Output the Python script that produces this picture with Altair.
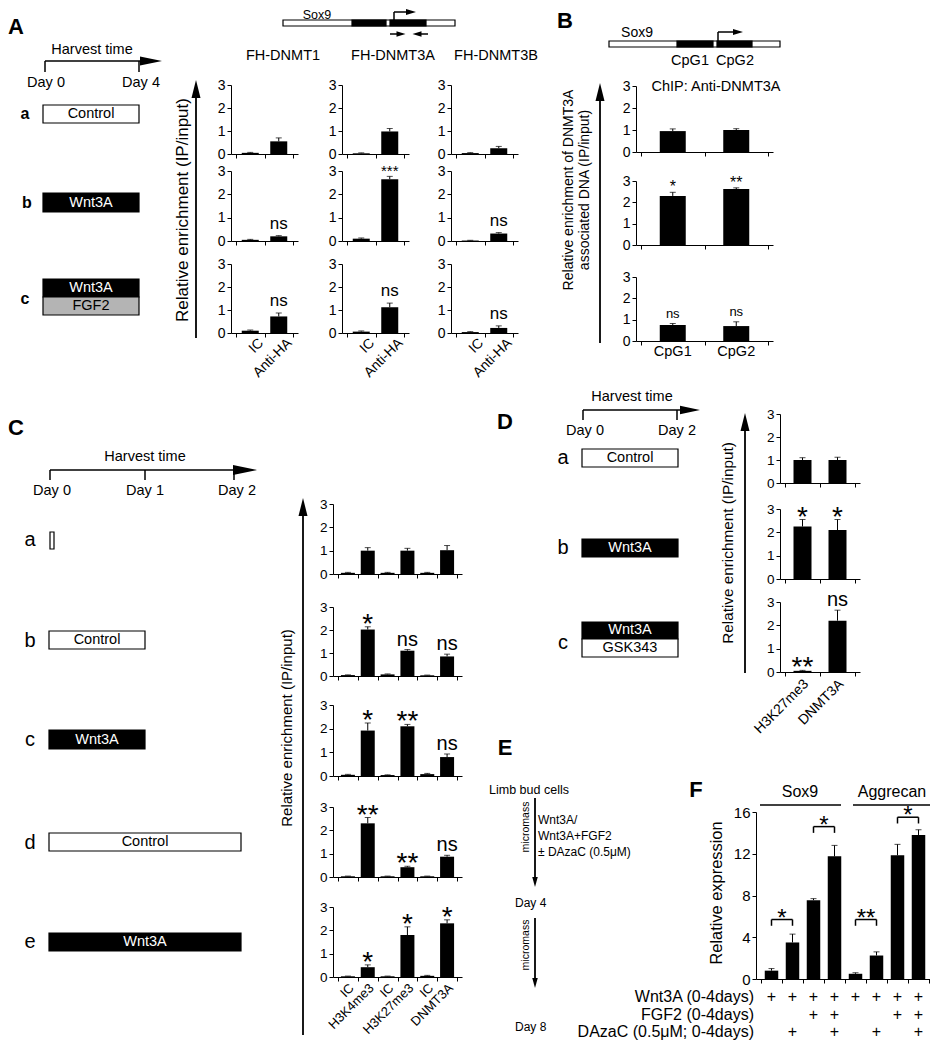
import altair as alt
import numpy as np
import pandas as pd

FONT = "Liberation Sans"
W, H = 922, 1034
OX, OY = 8, 8

# ---------------- data ----------------
A_categories = ["IC", "Anti-HA"]
A_columns = ["FH-DNMT1", "FH-DNMT3A", "FH-DNMT3B"]
A_DNMT1_mean = [[0.05, 0.55], [0.05, 0.20], [0.10, 0.72]]
A_DNMT1_err = [[0.02, 0.15], [0.02, 0.03], [0.03, 0.15]]
A_DNMT1_sig = [["", ""], ["", "ns"], ["", "ns"]]
A_DNMT3A_mean = [[0.03, 0.98], [0.10, 2.65], [0.06, 1.12]]
A_DNMT3A_err = [[0.02, 0.13], [0.03, 0.12], [0.03, 0.18]]
A_DNMT3A_sig = [["", ""], ["", "***"], ["", "ns"]]
A_DNMT3B_mean = [[0.04, 0.25], [0.02, 0.32], [0.04, 0.22]]
A_DNMT3B_err = [[0.02, 0.08], [0.01, 0.04], [0.02, 0.09]]
A_DNMT3B_sig = [["", ""], ["", "ns"], ["", "ns"]]
A_yticks = [0, 1, 2, 3]

B_categories = ["CpG1", "CpG2"]
B_mean = [[0.95, 1.00], [2.30, 2.62], [0.75, 0.70]]
B_err = [[0.10, 0.06], [0.17, 0.06], [0.07, 0.20]]
B_sig = [["", ""], ["*", "**"], ["ns", "ns"]]

C_categories = ["IC", "H3K4me3", "IC", "H3K27me3", "IC", "DNMT3A"]
C_mean = [
    [0.05, 1.00, 0.05, 1.00, 0.05, 1.02],
    [0.04, 2.02, 0.07, 1.10, 0.03, 0.85],
    [0.05, 1.92, 0.04, 2.10, 0.08, 0.80],
    [0.03, 2.30, 0.03, 0.42, 0.03, 0.87],
    [0.03, 0.42, 0.03, 1.80, 0.05, 2.30],
]
C_err = [
    [0.02, 0.13, 0.02, 0.10, 0.02, 0.20],
    [0.01, 0.12, 0.02, 0.05, 0.01, 0.10],
    [0.02, 0.32, 0.01, 0.08, 0.03, 0.13],
    [0.01, 0.25, 0.01, 0.04, 0.01, 0.06],
    [0.01, 0.10, 0.01, 0.35, 0.02, 0.15],
]
C_sig = [
    ["", "", "", "", "", ""],
    ["", "*", "", "ns", "", "ns"],
    ["", "*", "", "**", "", "ns"],
    ["", "**", "", "**", "", "ns"],
    ["", "*", "", "*", "", "*"],
]

D_categories = ["H3K27me3", "DNMT3A"]
D_mean = [[1.00, 1.00], [2.25, 2.10], [0.05, 2.20]]
D_err = [[0.10, 0.12], [0.30, 0.45], [0.02, 0.45]]
D_sig = [["", ""], ["*", "*"], ["**", "ns"]]

F_genes = ["Sox9", "Aggrecan"]
F_mean = [0.8, 3.5, 7.55, 11.75, 0.5, 2.25, 11.85, 13.8]
F_err = [0.2, 0.8, 0.15, 1.05, 0.1, 0.35, 1.05, 0.5]
F_yticks = [0, 4, 8, 12, 16]
F_treatments = ["Wnt3A (0-4days)", "FGF2 (0-4days)", "DAzaC (0.5\u03bcM; 0-4days)"]
F_wnt3a = ["+", "+", "+", "+", "+", "+", "+", "+"]
F_fgf2 = ["", "", "+", "+", "", "", "+", "+"]
F_dazac = ["", "+", "", "+", "", "+", "", "+"]
F_pair_left = [0, 2, 4, 6]
F_pair_right = [1, 3, 5, 7]
F_pair_sig = ["*", "*", "**", "*"]
F_pair_level = [5.7, 14.6, 5.7, 15.5]

# ---------------- layout (page pixels) ----------------
A_col_x = [(231, 298), (342, 409), (451, 518)]
A_row_y = [(154, 85), (241, 171), (333, 264)]
B_x = (636, 773)
B_row_y = [(152, 86), (245, 181), (341, 277)]
C_x = (333, 462)
C_row_y = [(574, 504), (676, 607), (776, 705), (877, 807), (977, 907)]
D_x = (780, 860)
D_row_y = [(483, 414), (579, 509), (672, 602)]
F_x = (756, 934)
F_y = (979, 812)
F_row_label_y = [997, 1015, 1032]


def frame(df, n, xr, yr, ymax, yticks, bar_w, tick_font):
    xs = alt.Scale(domain=[0, n], range=[xr[0] - OX, xr[1] - OX], nice=False, zero=False)
    ys = alt.Scale(domain=[0, ymax], range=[yr[0] - OY, yr[1] - OY], nice=False, zero=False)
    xax = alt.Axis(orient="bottom", offset=(yr[0] - OY) - H, values=list(range(n + 1)),
                   labels=False, ticks=True, tickSize=4, title=None, grid=False, zindex=1)
    yax = alt.Axis(orient="left", offset=-(xr[0] - OX), values=yticks, labelFontSize=tick_font,
                   tickSize=4, title=None, grid=False, zindex=1, labelPadding=2)

    def X(f):
        return alt.X(f, scale=xs, axis=xax)

    def Y(f):
        return alt.Y(f, scale=ys, axis=yax)

    base = alt.Chart(df)
    bars = base.mark_bar(color="black", size=bar_w, orient="vertical").encode(
        x=X("pos:Q"), y=alt.Y("mean:Q", scale=ys, axis=yax, stack=False))
    errs = base.mark_rule(color="black", strokeWidth=1).encode(x=X("pos:Q"), y=Y("mean:Q"), y2="top:Q")
    caps = base.mark_tick(color="black", orient="horizontal", size=6, thickness=1).encode(
        x=X("pos:Q"), y=Y("top:Q"))
    return base, X, Y, [bars, errs, caps]


def panel(cats, mean, err, sig, xr, yr, ymax, yticks, bar_w, star_size, star_dy, ns_size, ns_dy,
          tick_font=14, xlabels=None, xlabel_size=14, xlabel_dy=7, xlabel_shift=0):
    n = len(cats)
    df = pd.DataFrame({"pos": np.arange(n) + 0.5, "cat": cats, "mean": mean, "err": err, "sig": sig})
    df["top"] = df["mean"] + df["err"]
    base, X, Y, layers = frame(df, n, xr, yr, ymax, yticks, bar_w, tick_font)
    stars = base.transform_filter(
        alt.FieldOneOfPredicate(field="sig", oneOf=["*", "**", "***"])
    ).mark_text(font=FONT, fontSize=star_size, baseline="alphabetic", dy=star_dy, color="black").encode(
        x=X("pos:Q"), y=Y("top:Q"), text="sig:N")
    ns = base.transform_filter(alt.FieldEqualPredicate(field="sig", equal="ns")).mark_text(
        font=FONT, fontSize=ns_size, baseline="alphabetic", dy=ns_dy, color="black").encode(
        x=X("pos:Q"), y=Y("top:Q"), text="sig:N")
    layers += [stars, ns]
    if xlabels == "rot":
        k = xlabel_shift * 0.7071
        layers.append(base.mark_text(font=FONT, fontSize=xlabel_size, angle=315, align="right",
                                     baseline="middle", color="black", dx=k, dy=k).encode(
            x=X("pos:Q"), y=alt.value(yr[0] - OY + xlabel_dy), text="cat:N"))
    elif xlabels == "flat":
        layers.append(base.mark_text(font=FONT, fontSize=xlabel_size, align="center",
                                     baseline="top", color="black").encode(
            x=X("pos:Q"), y=alt.value(yr[0] - OY + xlabel_dy), text="cat:N"))
    return alt.layer(*layers)


panels = []
A_sets = [(A_DNMT1_mean, A_DNMT1_err, A_DNMT1_sig), (A_DNMT3A_mean, A_DNMT3A_err, A_DNMT3A_sig),
          (A_DNMT3B_mean, A_DNMT3B_err, A_DNMT3B_sig)]
for ci, (m, e, s) in enumerate(A_sets):
    for ri in range(3):
        panels.append(panel(A_categories, m[ri], e[ri], s[ri], A_col_x[ci], A_row_y[ri], 3, A_yticks, 17,
                            15, 0, 17, -7, tick_font=14,
                            xlabels="rot" if ri == 2 else None, xlabel_size=14, xlabel_dy=8,
                            xlabel_shift=11))
for ri in range(3):
    panels.append(panel(B_categories, B_mean[ri], B_err[ri], B_sig[ri], B_x, B_row_y[ri], 3, A_yticks, 26,
                        16, 0, 13, -6, tick_font=14,
                        xlabels="flat" if ri == 2 else None, xlabel_size=14.5, xlabel_dy=4))
for ri in range(5):
    panels.append(panel(C_categories, C_mean[ri], C_err[ri], C_sig[ri], C_x, C_row_y[ri], 3, A_yticks, 14,
                        28, 6, 20, -4, tick_font=13.5,
                        xlabels="rot" if ri == 4 else None, xlabel_size=13, xlabel_dy=9,
                        xlabel_shift=4))
for ri in range(3):
    panels.append(panel(D_categories, D_mean[ri], D_err[ri], D_sig[ri], D_x, D_row_y[ri], 3, A_yticks, 18,
                        28, 6, 20, -4, tick_font=13.5,
                        xlabels="rot" if ri == 2 else None, xlabel_size=14, xlabel_dy=10,
                        xlabel_shift=4))

# ---- panel F ----
fdf = pd.DataFrame({"pos": np.arange(8) + 0.5, "mean": F_mean, "err": F_err,
                    "wnt": F_wnt3a, "fgf": F_fgf2, "aza": F_dazac})
fdf["top"] = fdf["mean"] + fdf["err"]
fbase, FX, FY, flayers = frame(fdf, 8, F_x, F_y, 16, F_yticks, 13.5, 15)
bdf = pd.DataFrame({"l": np.array(F_pair_left) + 0.5, "r": np.array(F_pair_right) + 0.5,
                    "lv": F_pair_level, "sig": F_pair_sig})
bdf["lo"] = bdf["lv"] - 0.6
bdf["mid"] = (bdf["l"] + bdf["r"]) / 2
bb = alt.Chart(bdf)
flayers += [
    bb.mark_rule(color="black", strokeWidth=1.5).encode(x=FX("l:Q"), x2="r:Q", y=FY("lv:Q")),
    bb.mark_rule(color="black", strokeWidth=1.5).encode(x=FX("l:Q"), y=FY("lo:Q"), y2="lv:Q"),
    bb.mark_rule(color="black", strokeWidth=1.5).encode(x=FX("r:Q"), y=FY("lo:Q"), y2="lv:Q"),
    bb.mark_text(font=FONT, fontSize=24, baseline="alphabetic", dy=6, color="black").encode(
        x=FX("mid:Q"), y=FY("lv:Q"), text="sig:N"),
]
for field, yy in zip(["wnt", "fgf", "aza"], F_row_label_y):
    flayers.append(fbase.mark_text(font=FONT, fontSize=16, baseline="middle", color="black").encode(
        x=FX("pos:Q"), y=alt.value(yy - OY), text=f"{field}:N"))
panels.append(alt.layer(*flayers))

# ---------------- schematic canvas (page pixel coordinates) ----------------
WHITE, BLACK, GREY = "white", "black", "#b4b4b4"
rects = [
    (43, 105, 139, 123, WHITE), (43, 193, 139, 212, BLACK), (43, 279, 139, 297, BLACK), (43, 297, 139, 315, GREY),
    (283, 20, 455, 26, WHITE), (352, 20, 386, 26, BLACK), (390, 20, 426, 26, BLACK),
    (609, 41, 780, 47, WHITE), (677, 41, 713, 47, BLACK), (717, 41, 752, 47, BLACK),
    (50, 532, 54, 549, WHITE), (49, 631, 145, 649, WHITE), (49, 730, 145, 749, BLACK),
    (49, 833, 241, 851, WHITE), (49, 933, 241, 951, BLACK),
    (582, 449, 678, 467, WHITE), (582, 539, 678, 557, BLACK), (582, 622, 678, 639, BLACK), (582, 639, 678, 657, WHITE),
]
rules = [
    (45, 61, 142, 61, 1.5), (45, 61, 45, 72, 1.5), (139, 61, 139, 72, 1.5),
    (196, 338, 196, 92, 1.8),
    (394, 20, 394, 12, 1.5), (394, 12, 408, 12, 1.5), (390, 34, 398, 34, 1.5), (428, 34, 420, 34, 1.5),
    (718, 41, 718, 32, 1.5), (718, 32, 734, 32, 1.5), (600, 343, 600, 98, 1.8),
    (50, 470, 237, 470, 1.5), (50, 470, 50, 480, 1.5), (145, 470, 145, 480, 1.5), (234, 470, 234, 480, 1.5),
    (303, 1035, 303, 512, 1.8),
    (583, 410, 682, 410, 1.5), (583, 410, 583, 420, 1.5), (677, 410, 677, 420, 1.5), (745, 673, 745, 427, 1.8),
    (535, 798, 535, 880, 1.8), (535, 918, 535, 980, 1.8),
    (760, 805, 841, 805, 1.5), (853, 805, 930, 805, 1.5),
]
RIGHT = "M1,0L-1,-0.42L-1,0.42Z"
LEFT = "M-1,0L1,-0.6L1,0.6Z"
RIGHT_S = "M1,0L-1,-0.6L-1,0.6Z"
UP = "M0,-1L-0.5,1L0.5,1Z"
DOWN = "M0,1L-0.55,-1L0.55,-1Z"
heads = [
    (151, 61, RIGHT, 484), (196, 89, UP, 324),
    (411, 12, RIGHT_S, 100), (401, 34, RIGHT_S, 81), (417, 34, LEFT, 81),
    (738, 32, RIGHT_S, 100), (600, 92, UP, 324),
    (245, 470, RIGHT, 576), (303, 507, UP, 324),
    (690, 410, RIGHT, 400), (745, 422, UP, 324),
    (535, 882, DOWN, 100), (535, 983, DOWN, 100),
]
texts = [
    ("A", 16, 27, 22, 0, BLACK, "bold", "center"), ("B", 565, 21, 22, 0, BLACK, "bold", "center"),
    ("C", 16, 428, 22, 0, BLACK, "bold", "center"), ("D", 505, 422, 22, 0, BLACK, "bold", "center"),
    ("E", 505, 748, 22, 0, BLACK, "bold", "center"), ("F", 696, 790, 22, 0, BLACK, "bold", "center"),
    ("Harvest time", 92, 50, 14.5, 0, BLACK, "normal", "center"),
    ("Day 0", 46, 83, 14.5, 0, BLACK, "normal", "center"), ("Day 4", 141, 83, 14.5, 0, BLACK, "normal", "center"),
    ("a", 25, 114, 16, 0, BLACK, "bold", "center"), ("b", 27, 203, 16, 0, BLACK, "bold", "center"),
    ("c", 25, 299, 16, 0, BLACK, "bold", "center"),
    ("Control", 91, 114, 14.5, 0, BLACK, "normal", "center"), ("Wnt3A", 91, 203, 14.5, 0, WHITE, "normal", "center"),
    ("Wnt3A", 91, 288, 14.5, 0, WHITE, "normal", "center"), ("FGF2", 91, 306, 14.5, 0, BLACK, "normal", "center"),
    ("Sox9", 317, 15, 12.5, 0, BLACK, "normal", "center"),
    ("FH-DNMT1", 283, 56, 14.5, 0, BLACK, "normal", "center"),
    ("FH-DNMT3A", 393, 56, 14.5, 0, BLACK, "normal", "center"),
    ("FH-DNMT3B", 496, 56, 14.5, 0, BLACK, "normal", "center"),
    ("Relative enrichment (IP/input)", 183, 210, 17, 270, BLACK, "normal", "center"),
    ("Sox9", 637, 33, 14, 0, BLACK, "normal", "center"),
    ("CpG1", 690, 61, 14.5, 0, BLACK, "normal", "center"), ("CpG2", 735, 61, 14.5, 0, BLACK, "normal", "center"),
    ("ChIP: Anti-DNMT3A", 716, 87, 14.5, 0, BLACK, "normal", "center"),
    ("Relative enrichment of DNMT3A", 569, 190, 14, 270, BLACK, "normal", "center"),
    ("associated DNA (IP/input)", 585, 190, 14, 270, BLACK, "normal", "center"),
    ("Harvest time", 145, 457, 14.5, 0, BLACK, "normal", "center"),
    ("Day 0", 52, 491, 14.5, 0, BLACK, "normal", "center"), ("Day 1", 145, 491, 14.5, 0, BLACK, "normal", "center"),
    ("Day 2", 237, 491, 14.5, 0, BLACK, "normal", "center"),
    ("a", 30, 540, 20, 0, BLACK, "normal", "center"), ("b", 30, 641, 20, 0, BLACK, "normal", "center"),
    ("c", 30, 740, 20, 0, BLACK, "normal", "center"), ("d", 30, 843, 20, 0, BLACK, "normal", "center"),
    ("e", 30, 942, 20, 0, BLACK, "normal", "center"),
    ("Control", 97, 640, 14.5, 0, BLACK, "normal", "center"), ("Wnt3A", 97, 740, 14.5, 0, WHITE, "normal", "center"),
    ("Control", 145, 842, 14.5, 0, BLACK, "normal", "center"), ("Wnt3A", 145, 942, 14.5, 0, WHITE, "normal", "center"),
    ("Relative enrichment (IP/input)", 287, 728, 15, 270, BLACK, "normal", "center"),
    ("Harvest time", 632, 397, 14.5, 0, BLACK, "normal", "center"),
    ("Day 0", 585, 431, 14.5, 0, BLACK, "normal", "center"), ("Day 2", 677, 431, 14.5, 0, BLACK, "normal", "center"),
    ("a", 563, 458, 20, 0, BLACK, "normal", "center"), ("b", 563, 548, 20, 0, BLACK, "normal", "center"),
    ("c", 563, 643, 20, 0, BLACK, "normal", "center"),
    ("Control", 630, 458, 14.5, 0, BLACK, "normal", "center"), ("Wnt3A", 630, 548, 14.5, 0, WHITE, "normal", "center"),
    ("Wnt3A", 630, 630, 14.5, 0, WHITE, "normal", "center"), ("GSK343", 630, 648, 14.5, 0, BLACK, "normal", "center"),
    ("Relative enrichment (IP/input)", 728, 543, 15.3, 270, BLACK, "normal", "center"),
    ("Limb bud cells", 529, 790, 12.5, 0, BLACK, "normal", "center"),
    ("micromass", 526, 827, 10.5, 270, BLACK, "normal", "center"),
    ("Wnt3A/", 538, 820, 12, 0, BLACK, "normal", "left"),
    ("Wnt3A+FGF2", 538, 836, 12, 0, BLACK, "normal", "left"),
    ("\u00b1 DAzaC (0.5\u03bcM)", 538, 852, 12, 0, BLACK, "normal", "left"),
    ("Day 4", 515, 903, 12, 0, BLACK, "normal", "left"),
    ("micromass", 526, 945, 10.5, 270, BLACK, "normal", "center"),
    ("Day 8", 515, 1027, 12, 0, BLACK, "normal", "left"),
    ("Sox9", 800, 792, 16, 0, BLACK, "normal", "center"), ("Aggrecan", 892, 792, 16, 0, BLACK, "normal", "center"),
    ("Relative expression", 717, 893, 16.4, 270, BLACK, "normal", "center"),
]
for lab, yy in zip(F_treatments, F_row_label_y):
    texts.append((lab, 754, yy, 16, 0, BLACK, "normal", "right"))

CX = alt.Scale(domain=[OX, OX + W], range=[0, W], nice=False, zero=False)
CY = alt.Scale(domain=[OY, OY + H], range=[0, H], nice=False, zero=False)

rdf = pd.DataFrame(rects, columns=["x1", "y1", "x2", "y2", "fill"])
ldf = pd.DataFrame(rules, columns=["x1", "y1", "x2", "y2", "w"])
hdf = pd.DataFrame(heads, columns=["x", "y", "shape", "size"])
tdf = pd.DataFrame(texts, columns=["t", "x", "y", "s", "a", "c", "wt", "al"])

canvas_layers = [
    alt.Chart(rdf).mark_rect(stroke="black", strokeWidth=1.2).encode(
        x=alt.X("x1:Q", scale=CX, axis=None), x2="x2:Q",
        y=alt.Y("y1:Q", scale=CY, axis=None), y2="y2:Q",
        fill=alt.Fill("fill:N", scale=None)),
    alt.Chart(ldf).mark_rule(color="black").encode(
        x=alt.X("x1:Q", scale=CX, axis=None), x2="x2:Q",
        y=alt.Y("y1:Q", scale=CY, axis=None), y2="y2:Q",
        strokeWidth=alt.StrokeWidth("w:Q", scale=None)),
    alt.Chart(hdf).mark_point(filled=True, opacity=1, color="black", strokeWidth=0).encode(
        x=alt.X("x:Q", scale=CX, axis=None), y=alt.Y("y:Q", scale=CY, axis=None),
        shape=alt.Shape("shape:N", scale=None), size=alt.Size("size:Q", scale=None)),
]
for (wt, al), g in tdf.groupby(["wt", "al"]):
    canvas_layers.append(
        alt.Chart(g.reset_index(drop=True)).mark_text(font=FONT, fontWeight=wt, align=al, baseline="middle").encode(
            x=alt.X("x:Q", scale=CX, axis=None), y=alt.Y("y:Q", scale=CY, axis=None),
            text="t:N", size=alt.Size("s:Q", scale=None), angle=alt.Angle("a:Q", scale=None),
            color=alt.Color("c:N", scale=None)))
canvas = alt.layer(*canvas_layers)

chart = alt.layer(canvas, *panels).resolve_scale(x="independent", y="independent").properties(
    width=W, height=H, padding=0, autosize=alt.AutoSizeParams(type="none")
).configure_view(stroke=None).configure_axis(
    labelFont=FONT, labelColor="black", domainColor="black", tickColor="black",
    domainWidth=1, tickWidth=1, labelFlush=False
)

chart.save("out.html", embed_options={"renderer": "svg", "actions": False})
